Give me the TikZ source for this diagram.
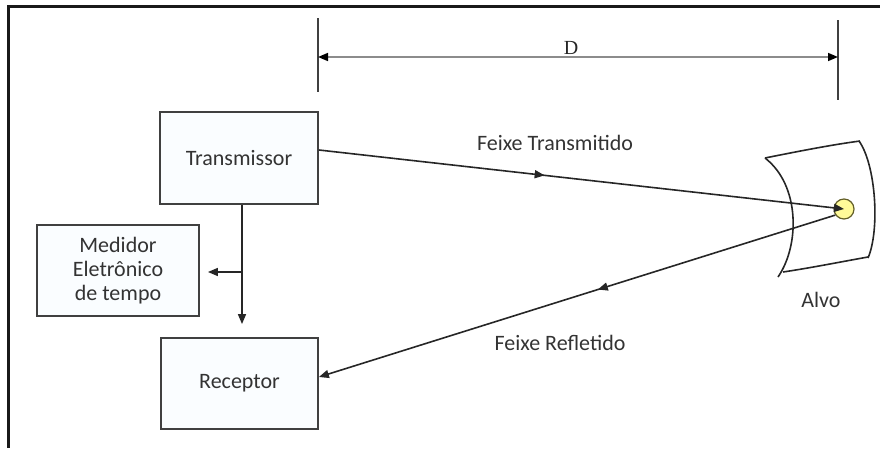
\documentclass[tikz,border=0pt]{standalone}
\usepackage{fontspec}
\setmainfont{Carlito}
\newfontfamily\dfont{Liberation Serif}
\usetikzlibrary{arrows.meta,decorations.markings}
\begin{document}
\begin{tikzpicture}[x=1pt,y=-1pt,
  box/.style={draw=black!75, line width=1.8pt, fill=cyan!2, inner sep=0pt,
    text=black!80, font=\fontsize{22}{24}\selectfont, align=center},
  lbl/.style={text=black!80, font=\fontsize{22}{24}\selectfont, inner sep=0pt},
  beam/.style={draw=black!85, line width=1.6pt},
  tip/.style={-{Triangle[length=10pt,width=8pt]}},
  midarrow/.style={postaction={decorate}, decoration={markings,
    mark=at position #1 with {\arrow{Triangle[length=10pt,width=8pt]}}}},
  dimline/.style={draw=black!75, line width=1.7pt}
]
\useasboundingbox (0,0) rectangle (880,448);
\draw[line width=2.8pt, black!90] (880,6.5) -- (8.5,6.5) -- (8.5,448);

% boxes
\node[box, minimum width=158pt, minimum height=92pt] (tx) at (239,158) {Transmissor};
\node[box, minimum width=162pt, minimum height=91pt] (med) at (118,270.5) {Medidor\\Eletrônico\\de tempo};
\node[box, minimum width=157pt, minimum height=91pt] (rx) at (239.5,383.5) {Receptor};

% vertical/horizontal arrows
\coordinate (j) at (242,272);
\draw[beam, tip, shorten >=13pt] (tx.south -| j) -- (rx.north -| j);
\draw[beam, tip, shorten >=8pt] (j) -- (med.east |- j);

% dimension D
\coordinate (dl1) at (318,18);
\coordinate (dl2) at (318,92);
\coordinate (dr1) at (838,20);
\coordinate (dr2) at (838,100);
\coordinate (da) at (318,57);
\coordinate (db) at (838,57);
\draw[dimline] (dl1) -- (dl2);
\draw[dimline] (dr1) -- (dr2);
\draw[draw=black!45, line width=1.6pt,
  {Triangle[length=10pt,width=8pt,color=black]}-{Triangle[length=10pt,width=8pt,color=black]}] (da) -- (db);
\node[font=\dfont\fontsize{20}{20}\selectfont, text=black!85, inner sep=0pt] (dlab) at (571,48) {D};

% target
\draw[line width=1.6pt, black!85] (765,158) .. controls (795,152) and (830,145) .. (860,141);
\draw[line width=1.6pt, black!85] (765,158) .. controls (800,185) and (800,245) .. (778,277);
\draw[line width=1.6pt, black!85] (783,272) .. controls (810,268) and (840,262) .. (868,257);
\draw[line width=1.6pt, black!85] (859,141) .. controls (876,165) and (880,230) .. (868,258);
\node[circle, draw=olive!60!black, fill=yellow!40, minimum size=20pt, inner sep=0pt, line width=1.2pt] (ball) at (844,209) {};
\node[lbl] (alvo) at (821,300) {Alvo};

% beams
\draw[beam, midarrow=0.43, tip] ([yshift=8pt]tx.east) -- (ball.center);
\draw[beam, midarrow=0.46, tip] (ball.215) -- ([yshift=6.5pt]rx.east);
\node[lbl] (ft) at (555,143) {Feixe Transmitido};
\node[lbl] (fr) at (560,343) {Feixe Refletido};
\end{tikzpicture}
\end{document}
